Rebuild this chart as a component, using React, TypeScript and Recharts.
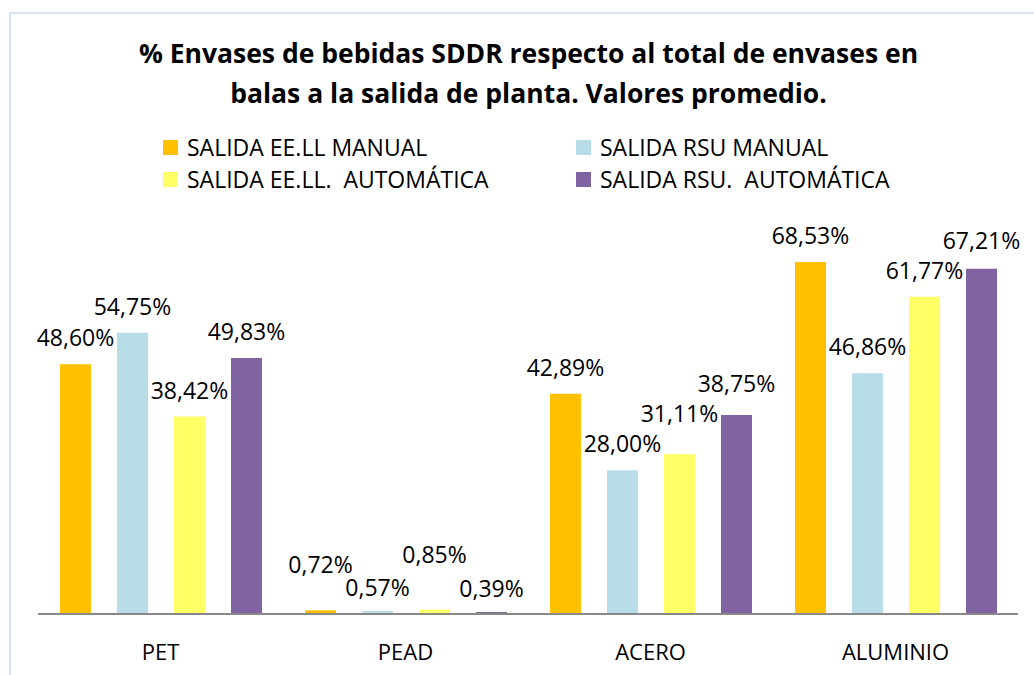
import React from 'react';
import { BarChart, Bar, XAxis, YAxis, Legend, LabelList } from 'recharts';

const categories = ['PET', 'PEAD', 'ACERO', 'ALUMINIO'];
const eellManual = [48.6, 0.72, 42.89, 68.53];
const rsuManual = [54.75, 0.57, 28.0, 46.86];
const eellAuto = [38.42, 0.85, 31.11, 61.77];
const rsuAuto = [49.83, 0.39, 38.75, 67.21];

const seriesNames = [
  'SALIDA EE.LL MANUAL',
  'SALIDA RSU MANUAL',
  'SALIDA EE.LL.  AUTOMÁTICA',
  'SALIDA RSU.  AUTOMÁTICA',
];
const seriesKeys = ['eellManual', 'rsuManual', 'eellAuto', 'rsuAuto'];
const seriesValues = [eellManual, rsuManual, eellAuto, rsuAuto];
const seriesColors = ['#FFC000', '#B7DEE8', '#FFFF66', '#8064A2'];

const data = categories.map((name, i) => ({
  name,
  eellManual: eellManual[i],
  rsuManual: rsuManual[i],
  eellAuto: eellAuto[i],
  rsuAuto: rsuAuto[i],
}));

const FONT = '"Open Sans", "Noto Sans", sans-serif';

const fmt = (v: number) => v.toFixed(2).replace('.', ',') + '%';

// tiny bars get their labels staggered so they don't overlap (like the excel original)
const smallLift = [37, 15, 47, 15];
const NORMAL_LIFT = 18;
const MIN_SEP = 30;

const makeLabel = (seriesIdx: number) => (props: any) => {
  const { x, y, width, height, value, index } = props;
  const v = Number(value);
  let lift = NORMAL_LIFT;
  if (v < 2) {
    lift = smallLift[seriesIdx];
  } else {
    // push the label up when it would collide with the previous series' label
    const bottom = Number(y) + Number(height);
    const pxPer = Number(height) / v;
    let prevBase: number | null = null;
    for (let s = 0; s <= seriesIdx; s++) {
      const sv = seriesValues[s][index];
      let base = bottom - sv * pxPer - NORMAL_LIFT;
      if (prevBase !== null && Math.abs(base - prevBase) < MIN_SEP) {
        base = prevBase - MIN_SEP;
      }
      prevBase = base;
    }
    lift = Number(y) - (prevBase as number);
  }
  return (
    <text
      x={Number(x) + Number(width) / 2}
      y={Number(y) - lift}
      textAnchor="middle"
      fontSize={23}
      fill="#000"
    >
      {fmt(v)}
    </text>
  );
};

const legendPos = [
  { left: 163, top: 136 },
  { left: 576, top: 136 },
  { left: 163, top: 168 },
  { left: 576, top: 168 },
];

const LegendBox = (props: any) => {
  const payload = props.payload || [];
  return (
    <div style={{ position: 'relative', width: 1034, height: 0 }}>
      {payload.map((item: any) => {
        const pos = legendPos[seriesNames.indexOf(item.value)] || legendPos[0];
        return (
          <div
            key={item.value}
            style={{
              position: 'absolute',
              left: pos.left,
              top: pos.top,
              display: 'flex',
              alignItems: 'flex-start',
              whiteSpace: 'pre',
              fontSize: 23,
              lineHeight: '22px',
              color: '#000',
            }}
          >
            <span
              style={{
                display: 'inline-block',
                width: 15,
                height: 15,
                marginTop: 4,
                marginRight: 9,
                background: item.color,
              }}
            />
            <span>{item.value}</span>
          </div>
        );
      })}
    </div>
  );
};

export default function App() {
  return (
    <div
      style={{
        position: 'absolute',
        left: 0,
        top: 0,
        width: 1034,
        height: 675,
        background: '#fff',
        fontFamily: FONT,
        overflow: 'hidden',
      }}
    >
      <div
        style={{
          position: 'absolute',
          left: 9,
          top: 12,
          width: 1100,
          height: 700,
          borderLeft: '2px solid #DAE3F3',
          borderTop: '2px solid #DAE3F3',
        }}
      />
      <div
        style={{
          position: 'absolute',
          left: 0,
          top: 33,
          width: 1057,
          textAlign: 'center',
          fontWeight: 700,
          fontSize: 26.5,
          lineHeight: '40px',
          color: '#000',
        }}
      >
        <div>% Envases de bebidas SDDR respecto al total de envases en</div>
        <div>balas a la salida de planta. Valores promedio.</div>
      </div>
      <div style={{ position: 'absolute', left: 0, top: 0 }}>
        <BarChart
          width={1034}
          height={675}
          data={data}
          margin={{ top: 203, right: 16, bottom: 31, left: 38 }}
          barSize={31}
          barGap={26}
        >
          <XAxis
            dataKey="name"
            height={30}
            tickLine={false}
            tickSize={0}
            tickMargin={30}
            axisLine={{ stroke: '#898989', strokeWidth: 2 }}
            tick={{ fill: '#000', fontSize: 22 }}
          />
          <YAxis hide domain={[0, 80]} />
          <Legend
            layout="horizontal"
            verticalAlign="middle"
            align="center"
            wrapperStyle={{ top: 0, left: 0, width: 1034, height: 0 }}
            content={<LegendBox />}
          />
          {seriesKeys.map((key, i) => (
            <Bar
              key={key}
              dataKey={key}
              name={seriesNames[i]}
              fill={seriesColors[i]}
              isAnimationActive={false}
            >
              <LabelList dataKey={key} content={makeLabel(i)} />
            </Bar>
          ))}
        </BarChart>
      </div>
    </div>
  );
}
